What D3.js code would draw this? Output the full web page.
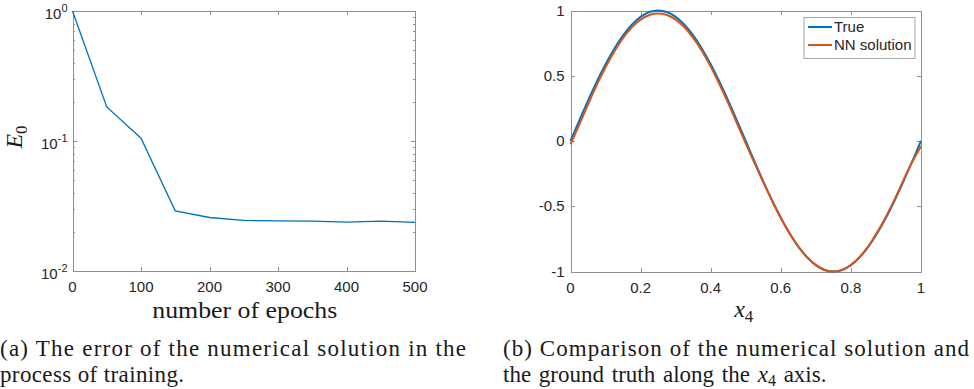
<!DOCTYPE html>
<html>
<head>
<meta charset="utf-8">
<script src="https://cdn.jsdelivr.net/npm/d3@7"></script>
<style>
    body { margin: 0; background: #fff; }
    #chart { width: 974px; height: 389px; }
    .tickLab { font-family: "Liberation Sans", Arial, sans-serif; font-size: 15px; fill: #262626; }
    .texLab { font-family: "Liberation Serif", "Times New Roman", serif; fill: #1a1a1a; }
</style>
</head>
<body>
<div id="chart"></div>
<script>

// ---- data ----
// (a) training error E_0 vs epochs
let epochs = [0, 50, 100, 150, 200, 250, 300, 350, 400, 450, 500];
let errE0 = [1.0, 0.183, 0.105, 0.029, 0.0258, 0.0245, 0.0243, 0.0242, 0.0238, 0.0242, 0.0237];

// (b) true vs NN solution along x4
let x4 = [0, 0.025, 0.05, 0.075, 0.1, 0.125, 0.15, 0.175, 0.2, 0.225, 0.25, 0.275, 0.3, 0.325, 0.35, 0.375, 0.4,
    0.425, 0.45, 0.475, 0.5, 0.525, 0.55, 0.575, 0.6, 0.625, 0.65, 0.675, 0.7, 0.725, 0.75, 0.775, 0.8, 0.825,
    0.85, 0.875, 0.9, 0.925, 0.95, 0.975, 1];
let trueVals = [0, 0.156, 0.309, 0.454, 0.588, 0.707, 0.809, 0.891, 0.951, 0.988, 1.0, 0.988, 0.951, 0.891, 0.809,
    0.707, 0.588, 0.454, 0.309, 0.156, 0, -0.156, -0.309, -0.454, -0.588, -0.707, -0.809, -0.891, -0.951, -0.988,
    -1.0, -0.988, -0.951, -0.891, -0.809, -0.707, -0.588, -0.454, -0.309, -0.156, 0];
let nnVals = [-0.025, 0.125, 0.28, 0.43, 0.565, 0.685, 0.79, 0.872, 0.93, 0.966, 0.977, 0.966, 0.93, 0.872, 0.79,
    0.69, 0.57, 0.435, 0.29, 0.135, -0.02, -0.17, -0.315, -0.458, -0.59, -0.708, -0.81, -0.891, -0.951, -0.988,
    -1.0, -0.988, -0.95, -0.888, -0.805, -0.7, -0.58, -0.445, -0.3, -0.16, -0.04];
let seriesNames = ["True", "NN solution"];

// tick labels
let xTicksA = [0, 100, 200, 300, 400, 500];
let yTicksA = [0.01, 0.1, 1];
let yExpA = ["-2", "-1", "0"];
let xTicksB = [0, 0.2, 0.4, 0.6, 0.8, 1];
let yTicksB = [-1, -0.5, 0, 0.5, 1];

let captionA = ["(a) The error of the numerical solution in the", "process of training."];
let captionB = ["(b) Comparison of the numerical solution and", "the ground truth along the ", " axis."];

const BLUE = "#0072BD", ORANGE = "#D95319", AXIS = "#8f8f8f";

let svg = d3.select("#chart").append("svg")
    .attr("width", 974)
    .attr("height", 389);

// draws the matlab style box with inward ticks on all four sides
function drawBox(g, x, y, w, h, xTicks, yTicks, minorY) {
    let ax = [
        d3.axisBottom(x).tickValues(xTicks).tickSize(-4).tickFormat(""),
        d3.axisTop(x).tickValues(xTicks).tickSize(-4).tickFormat(""),
        d3.axisLeft(y).tickValues(yTicks).tickSize(-4).tickFormat(""),
        d3.axisRight(y).tickValues(yTicks).tickSize(-4).tickFormat("")
    ];
    let pos = ["translate(0," + h + ")", "translate(0,0)", "translate(0,0)", "translate(" + w + ",0)"];
    ax.forEach(function (a, i) {
        let s = g.append("g").attr("transform", pos[i]).call(a);
        s.select(".domain").attr("stroke", AXIS).attr("shape-rendering", "crispEdges");
        s.selectAll(".tick line").attr("stroke", AXIS).attr("shape-rendering", "crispEdges");
    });
    if (minorY) {
        [d3.axisLeft(y), d3.axisRight(y)].forEach(function (a, i) {
            let s = g.append("g").attr("transform", i ? "translate(" + w + ",0)" : null)
                .call(a.tickValues(minorY).tickSize(-2).tickFormat(""));
            s.select(".domain").remove();
            s.selectAll(".tick line").attr("stroke", AXIS).attr("shape-rendering", "crispEdges");
        });
    }
}

/* * * * * * * * * * * * * *
*     (a) error vs epochs   *
* * * * * * * * * * * * * */
class ErrorVis {
    constructor(svg) {
        this.svg = svg;
        this.initVis();
    }

    initVis() {
        let vis = this;
        vis.margin = {top: 11, left: 72.5};
        vis.width = 342.5;
        vis.height = 260;

        vis.g = vis.svg.append("g")
            .attr("transform", "translate(" + vis.margin.left + "," + vis.margin.top + ")");

        vis.x = d3.scaleLinear().domain([0, 500]).range([0, vis.width]);
        vis.y = d3.scaleLog().domain([0.01, 1]).range([vis.height, 0]);

        let minor = [];
        [0.01, 0.1].forEach(function (dec) {
            for (let k = 2; k < 10; k++) minor.push(dec * k);
        });
        drawBox(vis.g, vis.x, vis.y, vis.width, vis.height, xTicksA, yTicksA, minor);

        vis.g.selectAll(".xlab").data(xTicksA).enter().append("text")
            .attr("class", "tickLab")
            .attr("x", d => vis.x(d))
            .attr("y", vis.height + 21)
            .attr("text-anchor", "middle")
            .text(d => d);

        let yl = vis.g.selectAll(".ylab").data(yTicksA).enter().append("text")
            .attr("class", "tickLab")
            .attr("x", -5)
            .attr("y", d => vis.y(d) + 8)
            .attr("text-anchor", "end");
        yl.append("tspan").text("10");
        yl.append("tspan").attr("dy", -7).attr("font-size", "11px").text(function (d, i) { return yExpA[i]; });

        vis.line = d3.line().x(d => vis.x(d[0])).y(d => vis.y(d[1]));
        vis.g.append("path")
            .datum(epochs.map((e, i) => [e, errE0[i]]))
            .attr("d", vis.line)
            .attr("fill", "none")
            .attr("stroke", BLUE)
            .attr("stroke-width", 1.3);

        // axis labels
        vis.g.append("text")
            .attr("class", "texLab")
            .attr("x", vis.width / 2 + 1)
            .attr("y", vis.height + 47)
            .attr("text-anchor", "middle")
            .attr("font-size", "24px")
            .attr("textLength", 185)
            .attr("lengthAdjust", "spacingAndGlyphs")
            .text("number of epochs");

        let yLab = vis.g.append("text")
            .attr("class", "texLab")
            .attr("transform", "translate(" + (22 - vis.margin.left) + ",126) rotate(-90)")
            .attr("text-anchor", "middle")
            .attr("font-size", "24px");
        yLab.append("tspan").attr("font-style", "italic").text("E");
        yLab.append("tspan").attr("dy", 5).attr("font-size", "17px").text("0");
    }
}

/* * * * * * * * * * * * * *
*    (b) true vs NN line    *
* * * * * * * * * * * * * */
class CompareVis {
    constructor(svg) {
        this.svg = svg;
        this.initVis();
    }

    initVis() {
        let vis = this;
        vis.margin = {top: 10.5, left: 570.5};
        vis.width = 350.5;
        vis.height = 261;

        vis.g = vis.svg.append("g")
            .attr("transform", "translate(" + vis.margin.left + "," + vis.margin.top + ")");

        vis.x = d3.scaleLinear().domain([0, 1]).range([0, vis.width]);
        vis.y = d3.scaleLinear().domain([-1, 1]).range([vis.height, 0]);

        drawBox(vis.g, vis.x, vis.y, vis.width, vis.height, xTicksB, yTicksB, null);

        vis.g.selectAll(".xlab").data(xTicksB).enter().append("text")
            .attr("class", "tickLab")
            .attr("x", d => vis.x(d))
            .attr("y", vis.height + 21)
            .attr("text-anchor", "middle")
            .text(d => d);

        vis.g.selectAll(".ylab").data(yTicksB).enter().append("text")
            .attr("class", "tickLab")
            .attr("x", -6)
            .attr("y", d => vis.y(d) + 5)
            .attr("text-anchor", "end")
            .text(d => d);

        vis.line = d3.line().curve(d3.curveCatmullRom).x(d => vis.x(d[0])).y(d => vis.y(d[1]));
        let series = [trueVals, nnVals];
        let colors = [BLUE, ORANGE];
        vis.g.selectAll(".series").data(series).enter().append("path")
            .attr("d", function (d) { return vis.line(x4.map((x, i) => [x, d[i]])); })
            .attr("fill", "none")
            .attr("stroke", (d, i) => colors[i])
            .attr("stroke-width", 2);

        // legend
        let lg = vis.g.append("g").attr("transform", "translate(" + (804 - vis.margin.left) + "," + (17.5 - vis.margin.top) + ")");
        lg.append("rect")
            .attr("width", 111)
            .attr("height", 41)
            .attr("fill", "#fff")
            .attr("stroke", "#a6a6a6");
        seriesNames.forEach(function (name, i) {
            lg.append("line")
                .attr("x1", 4).attr("x2", 28)
                .attr("y1", 9.5 + i * 18).attr("y2", 9.5 + i * 18)
                .attr("stroke", colors[i])
                .attr("stroke-width", 2);
            lg.append("text")
                .attr("class", "tickLab")
                .attr("font-size", "14px")
                .attr("x", 30)
                .attr("y", 14.5 + i * 18)
                .text(name);
        });

        let xLab = vis.g.append("text")
            .attr("class", "texLab")
            .attr("x", vis.width / 2 - 2)
            .attr("y", vis.height + 45)
            .attr("text-anchor", "middle")
            .attr("font-size", "24px");
        xLab.append("tspan").attr("font-style", "italic").text("x");
        xLab.append("tspan").attr("dy", 5).attr("font-size", "17px").text("4");
    }
}

new ErrorVis(svg);
new CompareVis(svg);

// captions
svg.append("text")
    .attr("class", "texLab")
    .attr("x", 0).attr("y", 355.5)
    .attr("font-size", "23px")
    .attr("textLength", 466)
    .attr("lengthAdjust", "spacing")
    .text(captionA[0]);
svg.append("text")
    .attr("class", "texLab")
    .attr("x", 0).attr("y", 382)
    .attr("font-size", "23px")
    .attr("textLength", 184)
    .attr("lengthAdjust", "spacing")
    .text(captionA[1]);
svg.append("text")
    .attr("class", "texLab")
    .attr("x", 503).attr("y", 355.5)
    .attr("font-size", "23px")
    .attr("textLength", 466)
    .attr("lengthAdjust", "spacing")
    .text(captionB[0]);
let capB2 = svg.append("text")
    .attr("class", "texLab")
    .attr("x", 503).attr("y", 382)
    .attr("font-size", "23px")
    .attr("word-spacing", "2px");
capB2.append("tspan").text(captionB[1]);
capB2.append("tspan").attr("font-style", "italic").text("x");
capB2.append("tspan").attr("dy", 4).attr("font-size", "16px").text("4");
capB2.append("tspan").attr("dy", -4).text(captionB[2]);

</script>
</body>
</html>
